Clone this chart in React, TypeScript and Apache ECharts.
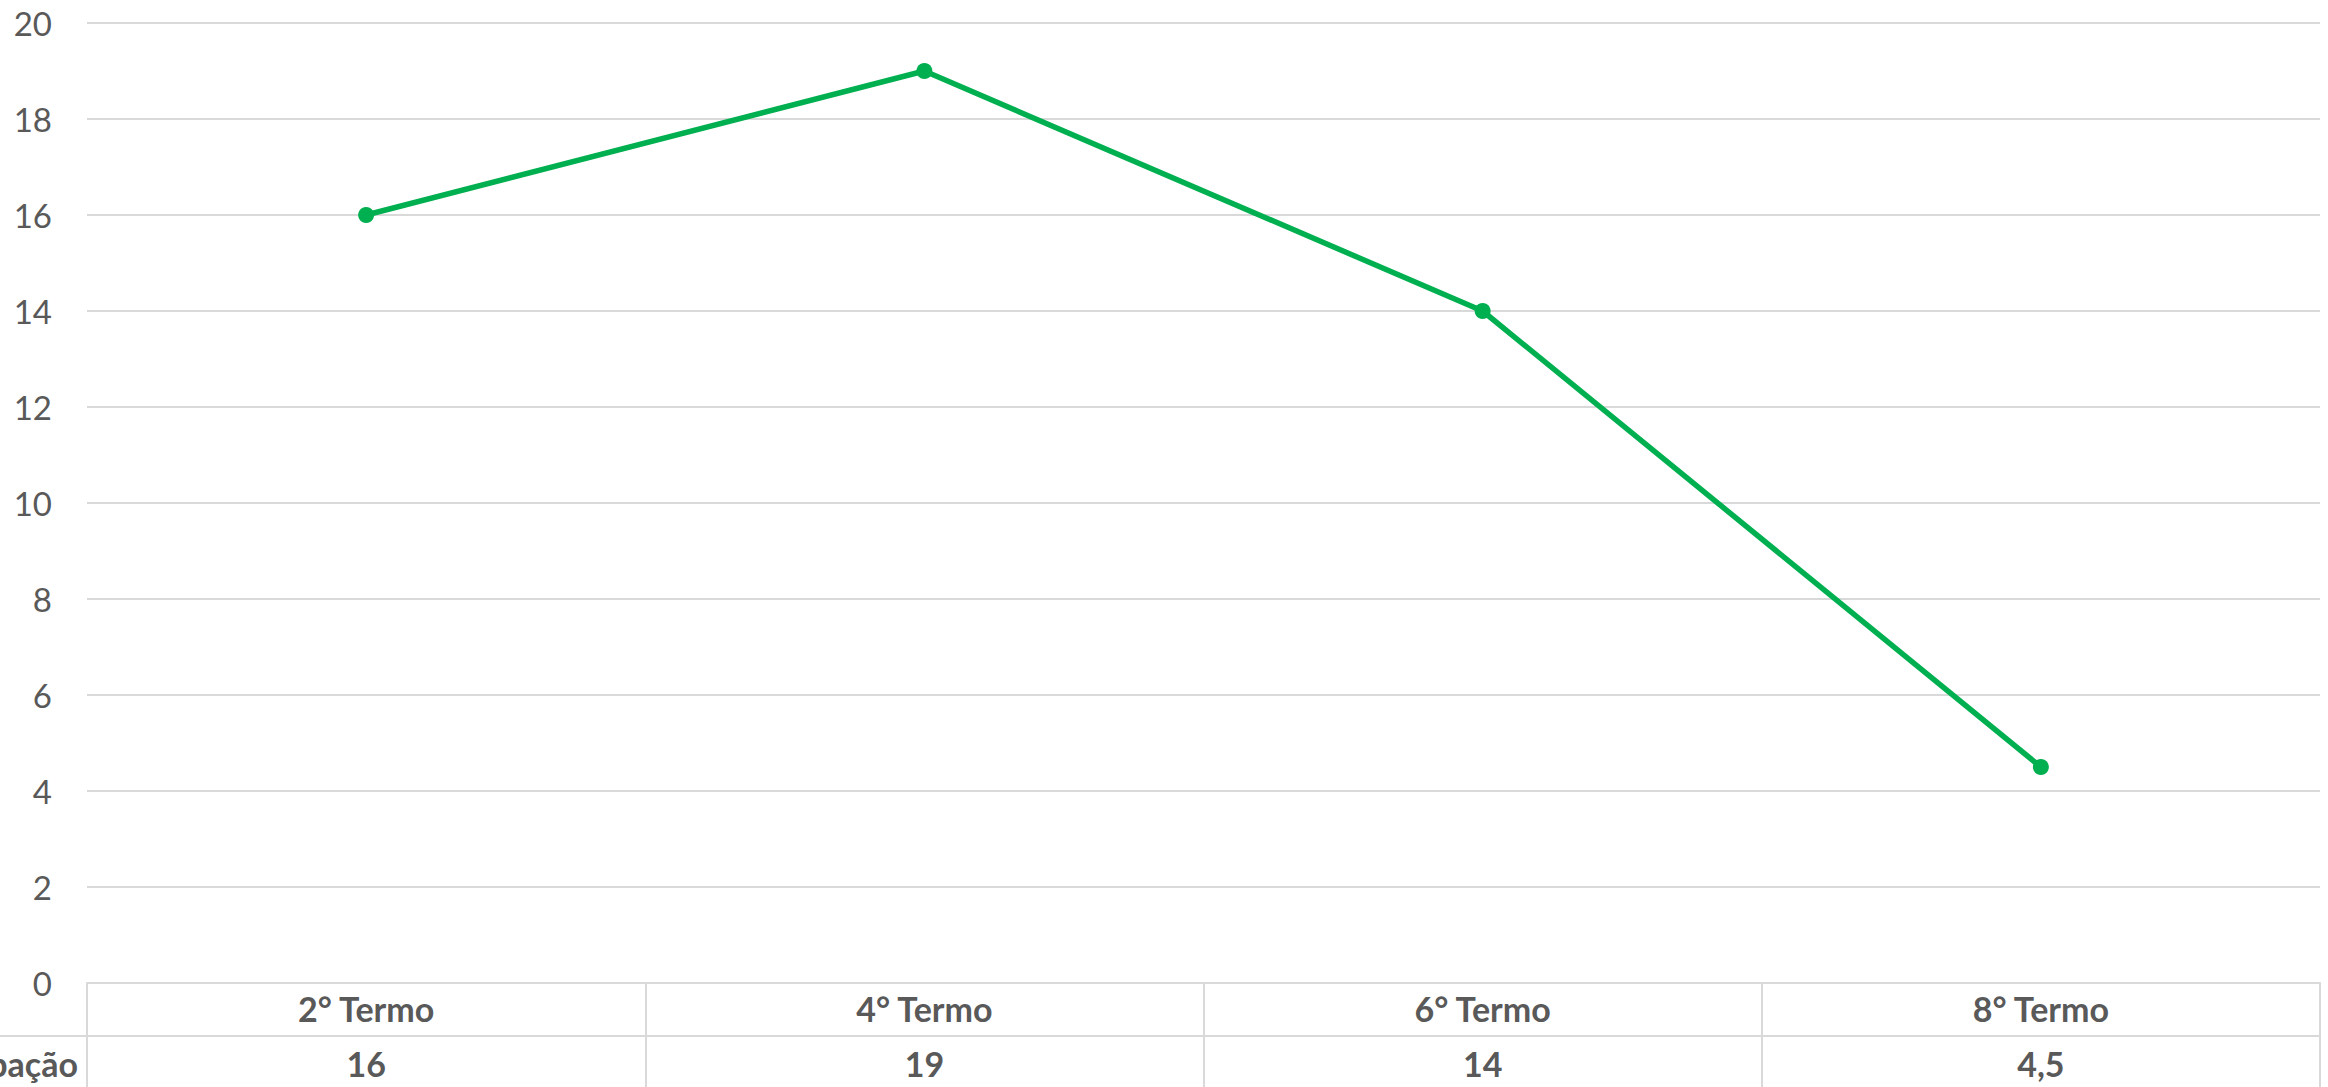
import React, { useEffect, useRef } from "react";
import * as echarts from "echarts";

const categories = ["2° Termo", "4° Termo", "6° Termo", "8° Termo"];
const values = [16, 19, 14, 4.5];
const seriesName = "Participação";
const yMin = 0;
const yMax = 20;
const yStep = 2;

const GRID = "#d9d9d9";
const TEXT = "#595959";
const GREEN = "#00b050";
const FONT = "Lato, 'Open Sans', sans-serif";

export default function App() {
  const ref = useRef<HTMLDivElement>(null);
  useEffect(() => {
    document.body.style.margin = "0";
    if (!ref.current) return;
    const chart = echarts.init(ref.current, undefined, { renderer: "svg" });
    const fmt = (v: number) => String(v).replace(".", ",");
    chart.setOption({
      animation: false,
      backgroundColor: "#ffffff",
      grid: { left: 87, right: 8, top: 23, bottom: 104, containLabel: false },
      xAxis: [
        {
          type: "category",
          data: categories,
          position: "bottom",
          boundaryGap: true,
          axisLine: { show: true, lineStyle: { color: GRID, width: 2 } },
          axisTick: { show: true, length: 110, lineStyle: { color: GRID, width: 2 } },
          axisLabel: {
            margin: 5,
            color: TEXT,
            fontFamily: FONT,
            fontWeight: "bold",
            fontSize: 34,
            lineHeight: 40,
          },
          splitLine: { show: false },
        },
        {
          type: "category",
          data: values.map(fmt),
          position: "bottom",
          offset: 53,
          boundaryGap: true,
          axisLine: { show: true, lineStyle: { color: GRID, width: 2 } },
          axisTick: { show: false },
          axisLabel: {
            margin: 7,
            color: TEXT,
            fontFamily: FONT,
            fontWeight: "bold",
            fontSize: 34,
            lineHeight: 40,
          },
          splitLine: { show: false },
        },
      ],
      yAxis: {
        type: "value",
        min: yMin,
        max: yMax,
        interval: yStep,
        axisLine: { show: false },
        axisTick: { show: false },
        axisLabel: {
          margin: 35,
          color: TEXT,
          fontFamily: FONT,
          fontSize: 33,
        },
        splitLine: { show: true, lineStyle: { color: GRID, width: 2 } },
      },
      graphic: [
        {
          type: "line",
          shape: { x1: 0, y1: 1036, x2: 87, y2: 1036 },
          style: { stroke: GRID, lineWidth: 2 },
        },
        {
          type: "text",
          x: 78,
          y: 1063,
          style: {
            text: seriesName,
            align: "right",
            verticalAlign: "middle",
            fill: TEXT,
            font: `bold 34px ${FONT}`,
          },
        },
      ],
      series: [
        {
          name: seriesName,
          type: "line",
          xAxisIndex: 0,
          data: values,
          symbol: "circle",
          symbolSize: 16,
          lineStyle: { color: GREEN, width: 5.5 },
          itemStyle: { color: GREEN },
        },
      ],
    });
    return () => chart.dispose();
  }, []);
  return (
    <div
      ref={ref}
      style={{ position: "absolute", left: 0, top: 0, width: 2328, height: 1087 }}
    />
  );
}
